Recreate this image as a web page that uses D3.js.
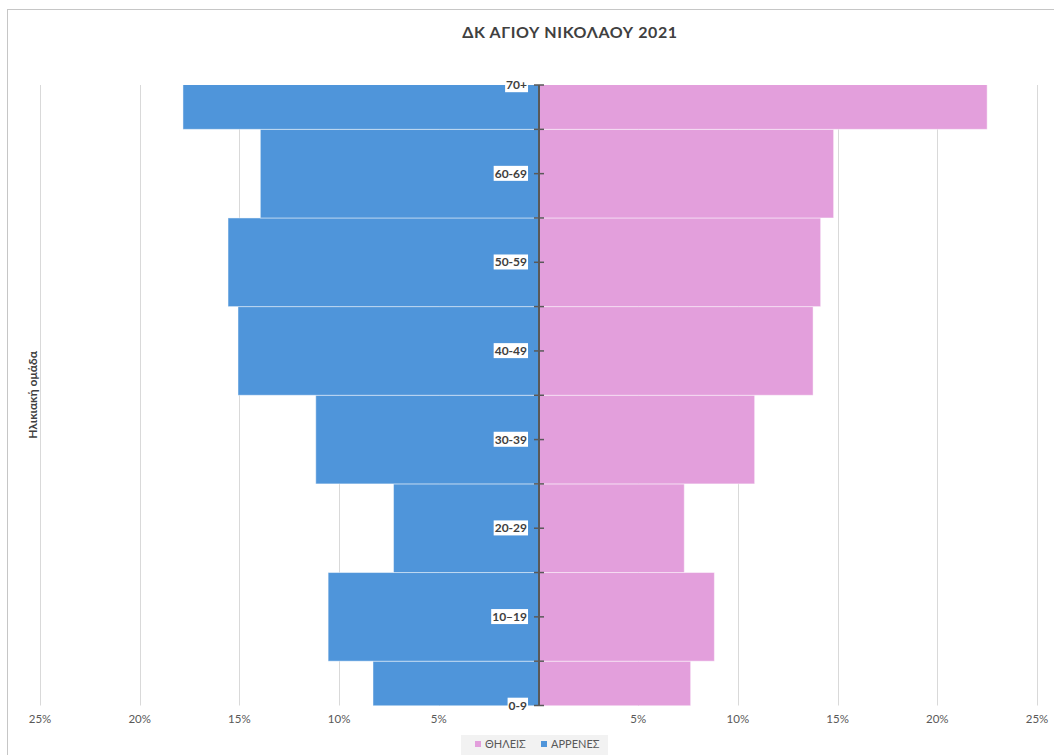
<!DOCTYPE html>
<html><head><meta charset="utf-8">
<script src="https://cdn.jsdelivr.net/npm/d3@7"></script>
<style>
html,body{margin:0;padding:0;background:#fff;}
svg{display:block;font-family:Lato,"Open Sans",sans-serif;}
</style></head>
<body>
<svg id="chart" width="1054" height="755"></svg>
<script>
const title = "ΔΚ ΑΓΙΟΥ ΝΙΚΟΛΑΟΥ 2021";
const yTitle = "Ηλικιακή ομάδα";
const ageGroups = ["0-9","10–19","20-29","30-39","40-49","50-59","60-69","70+"];
const males   = [8.3, 10.55, 7.27, 11.17, 15.07, 15.57, 13.95, 17.83];
const females = [7.63, 8.82, 7.31, 10.84, 13.77, 14.15, 14.8, 22.5];
const xTicks = [-25,-20,-15,-10,-5,0,5,10,15,20,25];
const seriesNames = ["ΘΗΛΕΙΣ","ΑΡΡΕΝΕΣ"];
const colors = {female:"#E39FDC", male:"#4F95DA"};

const svg = d3.select("#chart");
const plotTop = 85, plotBottom = 705.5;

// frame
svg.append("rect").attr("x",7.5).attr("y",9.5).attr("width",1125).attr("height",800)
  .attr("fill","#fff").attr("stroke","#c6c6c6").attr("stroke-width",1);

const x = d3.scaleLinear().domain([-25,25]).range([40,1037]);
const y = d3.scalePoint().domain(ageGroups).range([plotBottom, plotTop]);
const step = y.step();

// gridlines
svg.append("g").selectAll("line").data(xTicks.filter(d=>d!==0)).join("line")
  .attr("x1",d=>Math.round(x(d))+0.5).attr("x2",d=>Math.round(x(d))+0.5)
  .attr("y1",plotTop).attr("y2",plotBottom)
  .attr("stroke","#d9d9d9").attr("stroke-width",1);

// clip
svg.append("clipPath").attr("id","plotclip").append("rect")
  .attr("x",0).attr("y",plotTop).attr("width",1054).attr("height",plotBottom-plotTop);

const bars = svg.append("g").attr("clip-path","url(#plotclip)");
bars.selectAll("rect.m").data(ageGroups).join("rect").attr("class","m")
  .attr("x",(d,i)=>x(-males[i])).attr("width",(d,i)=>x(0)-x(-males[i]))
  .attr("y",d=>y(d)-step/2).attr("height",step)
  .attr("fill",colors.male).attr("stroke","rgba(255,255,255,0.45)").attr("stroke-width",1);
bars.selectAll("rect.f").data(ageGroups).join("rect").attr("class","f")
  .attr("x",x(0)).attr("width",(d,i)=>x(females[i])-x(0))
  .attr("y",d=>y(d)-step/2).attr("height",step)
  .attr("fill",colors.female).attr("stroke","rgba(255,255,255,0.45)").attr("stroke-width",1);

// x axis labels
svg.append("g").selectAll("text").data(xTicks.filter(d=>d!==0)).join("text")
  .attr("x",d=>x(d)).attr("y",723).attr("text-anchor","middle")
  .attr("font-size",11.5).attr("fill","#595959")
  .text(d=>Math.abs(d)+"%");

// category axis
const ax = x(0)+0.5;
const axisG = svg.append("g");
axisG.append("line").attr("x1",ax).attr("x2",ax).attr("y1",plotTop).attr("y2",plotBottom)
  .attr("stroke","#595959").attr("stroke-width",2);
const tickPos = [];
ageGroups.forEach((d,i)=>{ tickPos.push(y(d)); if(i<ageGroups.length-1) tickPos.push(y(d)-step/2); });
axisG.selectAll("line.t").data(tickPos).join("line").attr("class","t")
  .attr("x1",ax-5).attr("x2",ax+5).attr("y1",d=>d).attr("y2",d=>d)
  .attr("stroke","#595959").attr("stroke-width",1.5);

const labG = axisG.selectAll("g.lab").data(ageGroups).join("g").attr("class","lab");
labG.each(function(d){
  const g = d3.select(this);
  const t = g.append("text").attr("x",527).attr("y",y(d)).attr("dy","0.35em")
    .attr("text-anchor","end").attr("font-size",12).attr("font-weight","bold")
    .attr("fill","#404040").text(d);
  const bb = t.node().getBBox();
  g.insert("rect","text").attr("x",bb.x-1).attr("y",bb.y).attr("width",bb.width+2).attr("height",bb.height)
    .attr("fill","#fff");
});

// title
svg.append("text").attr("x",570).attr("y",38).attr("text-anchor","middle")
  .attr("font-size",16).attr("font-weight","bold").attr("fill","#404040")
  .attr("letter-spacing","0.6").text(title);

// y title
svg.append("text").attr("transform","translate(37,395) rotate(-90)")
  .attr("text-anchor","middle").attr("font-size",12).attr("font-weight","bold")
  .attr("fill","#404040").text(yTitle);

// legend
const leg = svg.append("g");
leg.append("rect").attr("x",461).attr("y",735).attr("width",147).attr("height",22).attr("fill","#f2f2f2");
const legItems = [{n:seriesNames[0],c:colors.female,x:475},{n:seriesNames[1],c:colors.male,x:541}];
legItems.forEach(it=>{
  leg.append("rect").attr("x",it.x).attr("y",741).attr("width",6).attr("height",6).attr("fill",it.c);
  leg.append("text").attr("x",it.x+10).attr("y",748).attr("font-size",11).attr("fill","#595959").text(it.n);
});
</script>
</body></html>
